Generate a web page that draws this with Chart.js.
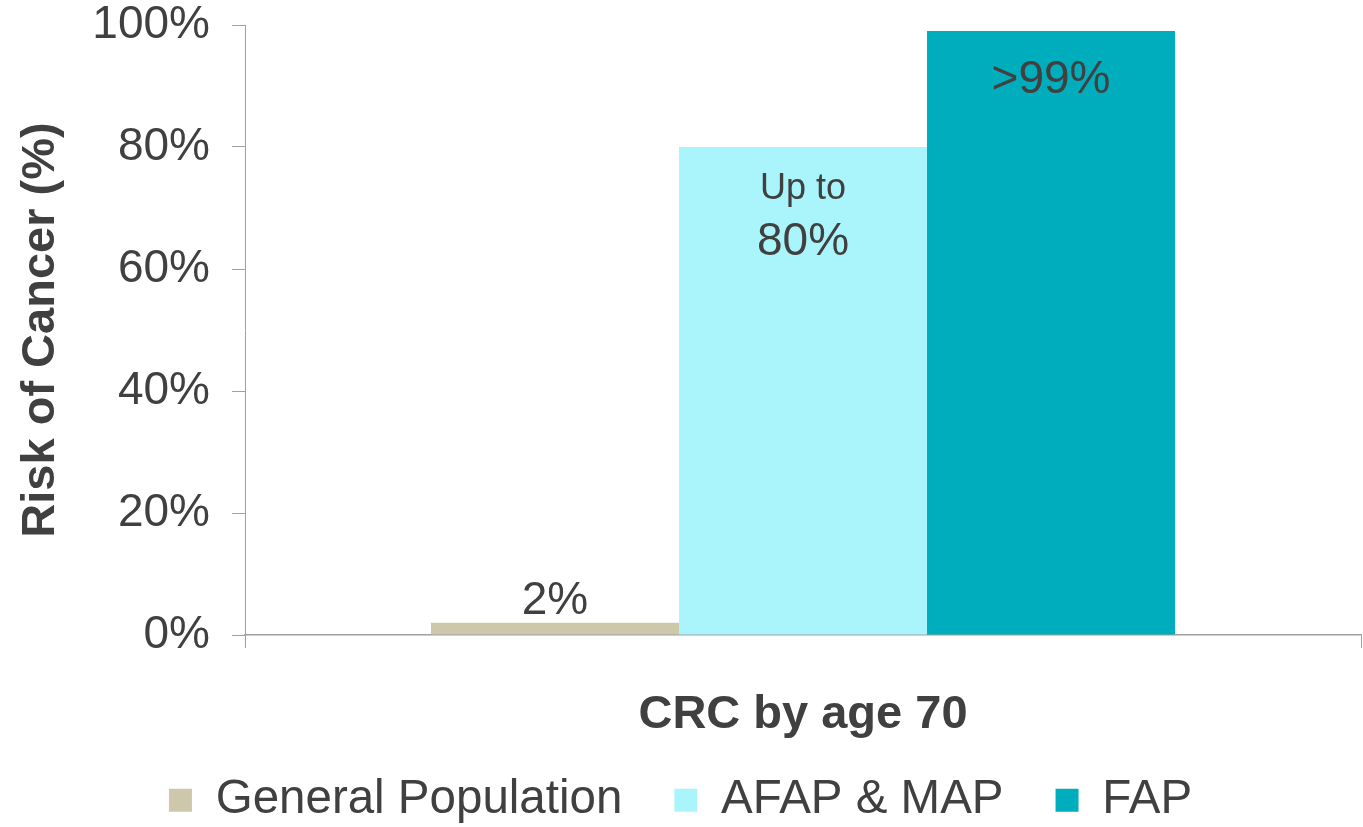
<!DOCTYPE html>
<html>
<head>
<meta charset="utf-8">
<script src="https://cdn.jsdelivr.net/npm/chart.js@4.4.1/dist/chart.umd.min.js"></script>
<style>
  html, body { margin: 0; padding: 0; background: #ffffff; }
  #wrap { width: 1363px; height: 827px; position: relative; }
</style>
</head>
<body>
<div id="wrap"><canvas id="c"></canvas></div>
<script>
// ---- data ----
const categories = ['CRC by age 70'];
const seriesNames = ['General Population', 'AFAP & MAP', 'FAP'];
const generalPopulation = [2];
const afapMap = [80];
const fap = [99];
const valueLabels = ['2%', '80%', '>99%'];
const prefixLabels = ['', 'Up to', ''];
const yTicks = [0, 20, 40, 60, 80, 100];

// ---- styles ----
const colors = ['#CDC7AB', '#AAF4FB', '#00ADBD'];
const textColor = '#404040';
const axisColor = '#A0A0A0';
const FONT = '"Liberation Sans", Arial, Helvetica, sans-serif';

Chart.defaults.font.family = FONT;
Chart.defaults.color = textColor;

const barLabelPlugin = {
  id: 'barLabels',
  afterLayout(chart) {
    // let the category label draw below the (compact) x-axis box without clipping
    chart.scales.x.bottom = chart.height;
  },
  afterDatasetsDraw(chart) {
    const ctx = chart.ctx;
    ctx.save();
    ctx.fillStyle = textColor;
    ctx.textAlign = 'center';
    ctx.textBaseline = 'middle';
    chart.data.datasets.forEach((ds, i) => {
      const bar = chart.getDatasetMeta(i).data[0];
      if (!bar) return;
      const x = bar.x, top = bar.y;
      if (i === 0) {
        ctx.font = '46px ' + FONT;
        ctx.fillText(valueLabels[i], x, top - 21);
      } else if (prefixLabels[i]) {
        ctx.font = '36px ' + FONT;
        ctx.fillText(prefixLabels[i], x, top + 42);
        ctx.font = '46px ' + FONT;
        ctx.fillText(valueLabels[i], x, top + 95);
      } else {
        ctx.font = '46px ' + FONT;
        ctx.fillText(valueLabels[i], x, top + 49);
      }
    });
    ctx.restore();
  }
};

const seriesData = [generalPopulation, afapMap, fap];

new Chart(document.getElementById('c'), {
  type: 'bar',
  data: {
    labels: categories,
    datasets: seriesNames.map((name, i) => ({
      label: name,
      data: seriesData[i],
      backgroundColor: colors[i],
      borderWidth: 0,
      barPercentage: 1,
      categoryPercentage: 0.6667
    }))
  },
  options: {
    responsive: true,
    maintainAspectRatio: false,
    animation: false,
    layout: { padding: { top: 25, right: 2, bottom: -7, left: 0 } },
    plugins: {
      tooltip: { enabled: false },
      legend: {
        position: 'bottom',
        align: 'center',
        labels: {
          font: { size: 47.5, family: FONT },
          color: textColor,
          boxWidth: 23,
          boxHeight: 23,
          padding: 52
        }
      }
    },
    scales: {
      x: {
        offset: true,
        afterFit(scale) { scale.height = 89.5; },
        grid: {
          offset: true,
          drawOnChartArea: false,
          drawTicks: true,
          tickLength: 13,
          color: axisColor
        },
        border: { display: true, color: axisColor, width: 1.5 },
        ticks: {
          font: { size: 47, weight: 'bold', family: FONT },
          color: textColor,
          padding: 39,
          maxRotation: 0
        }
      },
      y: {
        min: 0,
        max: 100,
        afterBuildTicks(scale) { scale.ticks = yTicks.map(v => ({ value: v })); },
        afterFit(scale) {
          scale.width = 245;
          scale.paddingTop = 0;
          scale.paddingBottom = 0;
        },
        grid: {
          drawOnChartArea: false,
          drawTicks: true,
          tickLength: 13,
          color: axisColor
        },
        border: { display: true, color: axisColor, width: 1 },
        ticks: {
          font: { size: 46, family: FONT, lineHeight: 1 },
          color: textColor,
          padding: 22,
          callback: v => v + '%'
        },
        title: {
          display: true,
          text: 'Risk of Cancer (%)',
          font: { size: 47, weight: 'bold', family: FONT },
          color: textColor,
          padding: { top: 13, bottom: 10 }
        }
      }
    }
  },
  plugins: [barLabelPlugin]
});
</script>
</body>
</html>
